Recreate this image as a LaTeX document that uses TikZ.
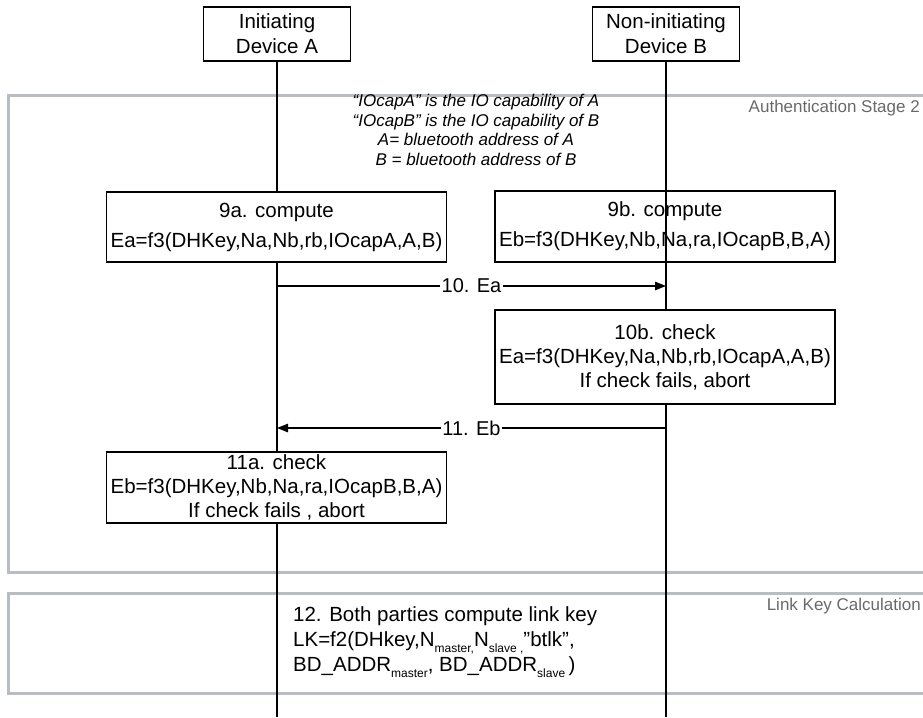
\documentclass[tikz,border=0pt]{standalone}
\usepackage{fontspec}
\setmainfont{Liberation Sans}
\usetikzlibrary{arrows.meta}
\definecolor{framegray}{RGB}{184,189,196}
\definecolor{labelgray}{RGB}{105,105,105}
% small lowered index text, as in N_master
\newcommand{\lowsub}[1]{\raisebox{-0.28em}{\fontsize{12}{12}\selectfont #1}}

\begin{document}
\begin{tikzpicture}[x=1pt,y=-1pt,
  every node/.style={font=\fontsize{20.5}{25}\selectfont, inner sep=0pt},
  devbox/.style={draw, line width=1.2pt, fill=white, align=center,
                 minimum width=147pt, minimum height=54pt},
  stepbox/.style={draw, line width=1.1pt, fill=white, align=center,
                  minimum width=340pt},
  lifeline/.style={line width=1.2pt},
  msg/.style={line width=1.1pt, -{Triangle[length=11pt,width=8.5pt]}},
  msglabel/.style={fill=white, inner xsep=1.5pt, inner ysep=2pt,
                   font=\fontsize{20}{24}\selectfont},
  stageframe/.style={draw=framegray, line width=3pt},
  stagelabel/.style={font=\fontsize{17}{20}\selectfont, text=labelgray, anchor=east},
]
\useasboundingbox (0,0) rectangle (923,717);
\clip (0,0) rectangle (923,717);

% stage frames (they run past the right edge)
\draw[stageframe] (8,95) rectangle (940,572);
\draw[stageframe] (8,593) rectangle (940,693);
\node[stagelabel] (st2) at (920,108) {Authentication Stage 2};
\node[stagelabel] (lkc) at (921,606) {Link Key Calculation};

% devices and lifelines
\node[devbox] (devA) at (277,34) {Initiating\\Device A};
\node[devbox] (devB) at (666,34) {Non-initiating\\Device B};
\coordinate (endA) at (277,717);
\coordinate (endB) at (666,717);
\draw[lifeline] (devA.south) -- (endA);
\draw[lifeline] (devB.south) -- (endB);

% definitions
\node[font=\itshape\fontsize{17}{19.5}\selectfont, align=center] (notes) at (476,130)
  {“IOcapA” is the IO capability of A\\
   “IOcapB” is the IO capability of B\\
   A= bluetooth address of A\\
   B = bluetooth address of B};

% step 9
\node[stepbox, minimum height=70pt, font=\fontsize{20.5}{30}\selectfont] (s9a) at (276.5,227)
  {9a. compute\\Ea=f3(DHKey,Na,Nb,rb,IOcapA,A,B)};
\node[stepbox, minimum height=71pt, font=\fontsize{20.5}{30}\selectfont] (s9b) at (665,226.5)
  {9b. compute\\Eb=f3(DHKey,Nb,Na,ra,IOcapB,B,A)};
\draw[lifeline] (devB.south |- s9b.north) -- (devB.south |- s9b.south);

% step 10
\coordinate (a10) at (277,286);
\coordinate (b10) at (666,286);
\draw[msg] (a10) -- node[msglabel] (l10) {10. Ea} (b10);
\node[stepbox, minimum height=94pt, font=\fontsize{20.5}{24}\selectfont] (s10b) at (665,357)
  {10b. check\\Ea=f3(DHKey,Na,Nb,rb,IOcapA,A,B)\\If check fails, abort};

% step 11
\coordinate (b11) at (666,428);
\coordinate (a11) at (277,428);
\draw[msg] (b11) -- node[msglabel] (l11) {11. Eb} (a11);
\node[stepbox, minimum height=71pt, font=\fontsize{20.5}{24}\selectfont] (s11a) at (276.5,487.5)
  {11a. check\\Eb=f3(DHKey,Nb,Na,ra,IOcapB,B,A)\\If check fails , abort};

% step 12
\node[anchor=west, align=left, font=\fontsize{20.5}{25}\selectfont] (s12) at (293,642)
  {12. Both parties compute link key\\
   LK=f2(DHkey,N\lowsub{master,}N\lowsub{slave ,}”btlk”,\\
   BD\_ADDR\lowsub{master}, BD\_ADDR\lowsub{slave })};
\end{tikzpicture}
\end{document}
